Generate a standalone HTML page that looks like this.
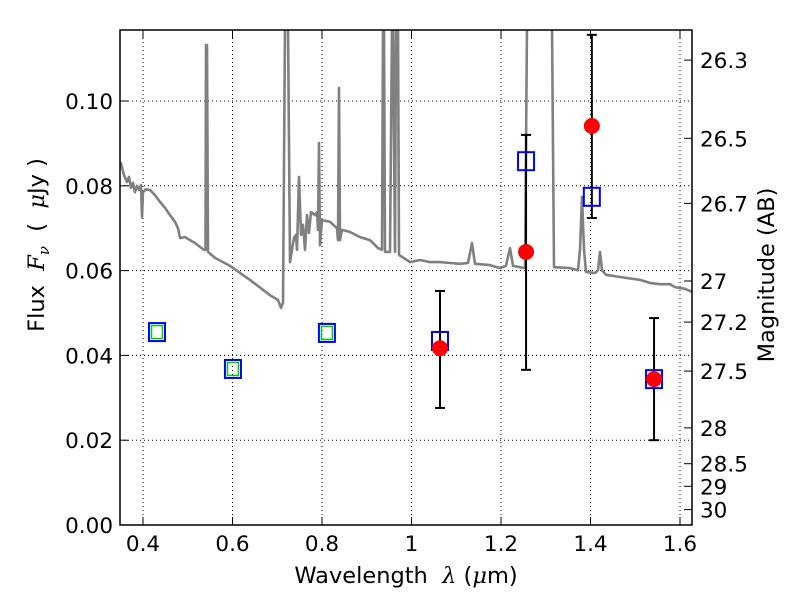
<!DOCTYPE html>
<html><head><meta charset="utf-8"><style>
html,body{margin:0;padding:0;background:#fff}
svg{display:block;font-family:"DejaVu Sans","Liberation Sans",sans-serif}
</style></head><body>
<svg id="chart" width="800" height="600"></svg>
<script>
const specLam=[0.35,0.3575,0.3642,0.3687,0.3732,0.3777,0.3821,0.3866,0.3911,0.3955,0.3978,0.4,0.4067,0.4156,0.4268,0.438,0.4492,0.4603,0.4715,0.4782,0.4827,0.4939,0.505,0.5162,0.5274,0.5363,0.5397,0.5408,0.543,0.5453,0.5609,0.5944,0.6391,0.6838,0.7017,0.7084,0.7128,0.7173,0.724,0.7285,0.733,0.7374,0.7419,0.7441,0.7486,0.7531,0.7575,0.762,0.7665,0.771,0.7754,0.7844,0.7888,0.7911,0.7933,0.7955,0.8,0.8179,0.8335,0.8358,0.838,0.8402,0.8447,0.8626,0.8849,0.9073,0.9251,0.9341,0.9363,0.9385,0.9408,0.952,0.9564,0.9587,0.9631,0.9654,0.9698,0.9721,0.9966,1.019,1.0413,1.0637,1.086,1.1084,1.1263,1.1352,1.1419,1.1754,1.1978,1.2112,1.2201,1.2268,1.2425,1.2536,1.2581,1.314,1.3184,1.3542,1.3721,1.3765,1.381,1.3855,1.3899,1.4101,1.4168,1.4212,1.4257,1.4346,1.4659,1.5106,1.533,1.5553,1.5777,1.5888,1.6112,1.6268];
const specFlux=[0.0856,0.0825,0.0809,0.0821,0.0795,0.0807,0.0785,0.08,0.079,0.0802,0.0726,0.0785,0.0792,0.079,0.0778,0.0762,0.0748,0.0731,0.0715,0.07,0.0677,0.0679,0.0672,0.0665,0.0656,0.0649,0.0649,0.1132,0.1132,0.0644,0.063,0.0611,0.0578,0.0542,0.0531,0.0512,0.0524,0.118,0.118,0.062,0.0649,0.0677,0.0684,0.0649,0.0821,0.0684,0.0708,0.0649,0.0731,0.0689,0.0738,0.0731,0.0738,0.0696,0.0901,0.066,0.0719,0.0715,0.07,0.0672,0.1031,0.0672,0.0696,0.0691,0.0679,0.0672,0.0653,0.0649,0.118,0.118,0.0644,0.0644,0.118,0.118,0.0644,0.118,0.118,0.0637,0.062,0.0625,0.062,0.062,0.0618,0.0616,0.0618,0.0665,0.0616,0.0613,0.0606,0.0611,0.0653,0.0611,0.0608,0.0606,0.118,0.118,0.0608,0.0606,0.0601,0.0649,0.0774,0.0649,0.0597,0.0594,0.0601,0.0644,0.0601,0.059,0.0585,0.0578,0.0571,0.0568,0.0568,0.0561,0.0557,0.055];
const photLam=[0.4313,0.601,0.811,1.0637,1.256,1.403,1.542];
const modelFlux=[0.0455,0.0368,0.0453,0.0434,0.0858,0.0774,0.0344];
const groundFlux=[0.0455,0.0368,0.0453];
const obsLam=[1.0637,1.256,1.403,1.542];
const obsFlux=[0.0417,0.0644,0.0941,0.0344];
const obsLo=[0.0276,0.0366,0.0724,0.0200];
const obsHi=[0.0552,0.0920,0.1156,0.0488];
const xTicks=[0.4,0.6,0.8,1.0,1.2,1.4,1.6];
const xTickLabels=["0.4","0.6","0.8","1","1.2","1.4","1.6"];
const yTicks=[0,0.02,0.04,0.06,0.08,0.10];
const yTickLabels=["0.00","0.02","0.04","0.06","0.08","0.10"];
const magTicks=[26.3,26.5,26.7,27,27.2,27.5,28,28.5,29,30];
const magTickLabels=["26.3","26.5","26.7","27","27.2","27.5","28","28.5","29","30"];

const L=120,R=692,T=30,B=525;
const X=v=>143+(v-0.4)*447.5;
const Y=v=>525-v*4240;
const NS="http://www.w3.org/2000/svg";
const svg=document.getElementById('chart');
function mk(tag,attrs,parent){const e=document.createElementNS(NS,tag);for(const k in attrs)e.setAttribute(k,attrs[k]);(parent||svg).appendChild(e);return e;}

const defs=mk('defs',{});
const cp=mk('clipPath',{id:'clip'},defs);
mk('rect',{x:L,y:T,width:R-L,height:B-T},cp);

const grid=mk('g',{stroke:'#000','stroke-width':1,'stroke-dasharray':'1,3'});


xTicks.forEach(t=>mk('line',{x1:X(t),x2:X(t),y1:T,y2:B},grid));
yTicks.forEach(t=>mk('line',{x1:L,x2:R,y1:Y(t),y2:Y(t)},grid));

const plot=mk('g',{'clip-path':'url(#clip)'});
let d=specLam.map((l,i)=>(i?'L':'M')+X(l).toFixed(1)+','+Y(specFlux[i]).toFixed(1)).join(' ');
const sp=mk('path',{d:d,fill:'none',stroke:'#808080','stroke-width':2.6,'stroke-linejoin':'round'},plot);



obsLam.forEach((l,i)=>{
  const g=mk('g',{stroke:'#000','stroke-width':2},plot);
  
  
  mk('line',{x1:X(l),x2:X(l),y1:Y(obsLo[i]),y2:Y(obsHi[i])},g);
  mk('line',{x1:X(l)-5,x2:X(l)+5,y1:Y(obsLo[i]),y2:Y(obsLo[i])},g);
  mk('line',{x1:X(l)-5,x2:X(l)+5,y1:Y(obsHi[i]),y2:Y(obsHi[i])},g);
});
photLam.forEach((l,i)=>{
  const r=mk('rect',{x:X(l)-8,y:Y(modelFlux[i])-9,width:16,height:18,fill:'none',stroke:'#0000ff','stroke-width':2},plot);
  
  
});
groundFlux.forEach((f,i)=>{
  const l=photLam[i];
  const r=mk('rect',{x:X(l)-5.5,y:Y(f)-6.5,width:11,height:13,fill:'none',stroke:'#00cc00','stroke-width':1.5},plot);
  
  
});
obsLam.forEach((l,i)=>{
  const c=mk('circle',{cx:X(l),cy:Y(obsFlux[i]),r:8,fill:'#ff0000'},plot);
  
  
});

const fr=mk('rect',{x:L,y:T,width:R-L,height:B-T,fill:'none',stroke:'#000','stroke-width':1.5});



const FS=21.5;
const tk=mk('g',{stroke:'#000','stroke-width':1});
xTicks.forEach((t,i)=>{
  mk('line',{x1:X(t),x2:X(t),y1:B,y2:B-8},tk);mk('line',{x1:X(t),x2:X(t),y1:T,y2:T+8},tk);
  const tx=mk('text',{x:X(t),y:B+26,'font-size':FS,'text-anchor':'middle',fill:'#000',stroke:'none'});
  tx.textContent=xTickLabels[i];
  
  
});
yTicks.forEach((t,i)=>{
  mk('line',{x1:L,x2:L+8,y1:Y(t),y2:Y(t)},tk);
  const tx=mk('text',{x:L-7,y:Y(t)+8,'font-size':FS,'text-anchor':'end',fill:'#000',stroke:'none'});
  tx.textContent=yTickLabels[i];
  
  
});
magTicks.forEach((m,i)=>{
  const y=Y(Math.pow(10,(23.9-m)/2.5));
  mk('line',{x1:R,x2:R-8,y1:y,y2:y},tk);
  const tx=mk('text',{x:R+8,y:y+8,'font-size':FS,'text-anchor':'start',fill:'#000',stroke:'none'});
  tx.textContent=magTickLabels[i];
  
  
});

const xl=mk('text',{x:406,y:583,'font-size':22.5,'text-anchor':'middle','xml:space':'preserve'});
xl.innerHTML='Wavelength  <tspan font-style="italic" font-family="DejaVu Serif, serif">λ</tspan> (<tspan font-style="italic" font-family="DejaVu Serif, serif">μ</tspan>m)';
xl.setAttribute('style','white-space:pre');


const yl=mk('text',{x:0,y:0,'font-size':22.5,'text-anchor':'middle',transform:'translate(44,245) rotate(-90)'});
yl.setAttribute('style','white-space:pre');
yl.innerHTML='Flux  <tspan font-style="italic" font-family="DejaVu Serif, serif">F</tspan><tspan font-style="italic" font-size="15" dy="5" font-family="DejaVu Serif, serif">ν</tspan><tspan dy="-5">  (  </tspan><tspan font-style="italic" font-family="DejaVu Serif, serif">μ</tspan>Jy )';


const rl=mk('text',{x:0,y:0,'font-size':22.5,'text-anchor':'middle',transform:'translate(774,275) rotate(-90)'});
rl.textContent='Magnitude (AB)';


</script>
</body></html>
